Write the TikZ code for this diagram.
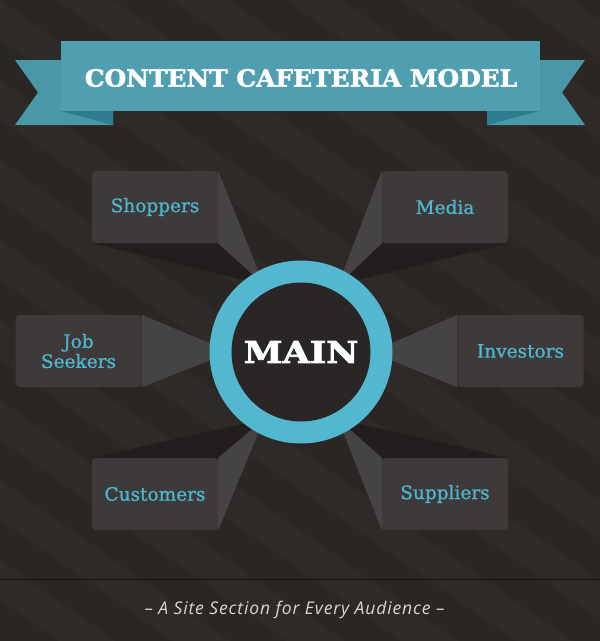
\documentclass[tikz,border=0pt]{standalone}
\usepackage{fontspec}
\newfontfamily\slabfont{DejaVu Serif}[FakeBold=0.9]
\newfontfamily\titlefont{DejaVu Serif Bold}[FakeStretch=1.05, FakeBold=2.2]
\newfontfamily\hubfont{DejaVu Serif Bold}[FakeStretch=1.17, FakeBold=2.6]
\newfontfamily\footfont{Open Sans}[LetterSpace=5]
\definecolor{bgc}{HTML}{2A2624}
\definecolor{stripec}{HTML}{2E2A28}
\definecolor{boxc}{HTML}{3D3A39}
\definecolor{lightface}{HTML}{464344}
\definecolor{darkface}{HTML}{221E1D}
\definecolor{ringc}{HTML}{53B8CF}
\definecolor{innerc}{HTML}{2A2625}
\definecolor{labelc}{HTML}{4FB6CD}
\definecolor{bannerc}{HTML}{509FB1}
\definecolor{tailc}{HTML}{4A97A8}
\definecolor{foldc}{HTML}{2E7C90}
\definecolor{footc}{HTML}{D9D5D1}
\definecolor{sepc}{HTML}{121010}
\pgfdeclarelayer{backlayer}
\pgfdeclarelayer{facelayer}
\pgfsetlayers{backlayer,facelayer,main}
\tikzset{
  boxst/.style={fill=boxc, rounded corners=4pt, minimum width=126pt, minimum height=72pt,
    inner sep=0pt, text=labelc, align=center, font=\slabfont\fontsize{18.5}{20}\selectfont},
  lightst/.style={fill=lightface},
  darkst/.style={fill=darkface},
}
\begin{document}
\begin{tikzpicture}[x=1pt,y=-1pt]
\useasboundingbox (0,0) rectangle (600,641);
% boxes
\node[boxst] (shop) at (155,207) {Shoppers};
\node[boxst] (media) at (445,207) {Media};
\node[boxst] (job) at (78.5,351) {Job\\Seekers};
\node[boxst] (inv) at (520.5,351) {Investors};
\node[boxst] (cust) at (155,494) {Customers};
\node[boxst] (supp) at (445,494) {Suppliers};
% vanishing points
\coordinate (Vs) at (264,285);
\coordinate (Vm) at (338,285);
\coordinate (Vj) at (231,352);
\coordinate (Vi) at (371,352);
\coordinate (Vc) at (264,419);
\coordinate (Vu) at (338,419);
% hub
\node[circle, fill=ringc, minimum size=183pt, inner sep=0pt] (ring) at (301,352) {};
\node[circle, fill=innerc, minimum size=139pt, inner sep=0pt, text=white,
  font=\hubfont\fontsize{30}{30}\selectfont] (hub) at (301,352) {MAIN};
% banner
\fill[tailc] (15,60) -- (113,60) -- (113,125) -- (15,125) -- (38,92.5) -- cycle;
\fill[foldc] (61,111) -- (113,111) -- (113,125) -- cycle;
\fill[tailc] (585,60) -- (487,60) -- (487,125) -- (585,125) -- (562,92.5) -- cycle;
\fill[foldc] (539,111) -- (487,111) -- (487,125) -- cycle;
\node[fill=bannerc, minimum width=479pt, minimum height=70pt, inner sep=0pt] (banner) at (300.5,76) {};
\node[text=white, font=\titlefont\fontsize{23.7}{24}\selectfont, inner sep=0pt] (title) at (301,78) {CONTENT CAFETERIA MODEL};
% footer
\coordinate (sepL) at (0,579.5);
\coordinate (sepR) at (600,579.5);
\draw[sepc, line width=1.5pt] (sepL) -- (sepR);
\node[text=footc, font=\footfont\itshape\fontsize{17.5}{17}\selectfont, inner sep=0pt] (foot) at (294.5,609.5) {– A Site Section for Every Audience –};
% faces
\begin{pgfonlayer}{facelayer}
\fill[darkst] (shop.south west) -- (shop.south east) -- (Vs) -- cycle;
\fill[lightst] (shop.north east) -- (shop.south east) -- (Vs) -- cycle;
\fill[darkst] (media.south west) -- (media.south east) -- (Vm) -- cycle;
\fill[lightst] (media.north west) -- (media.south west) -- (Vm) -- cycle;
\fill[lightst] (job.north east) -- (job.south east) -- (Vj) -- cycle;
\fill[lightst] (inv.north west) -- (inv.south west) -- (Vi) -- cycle;
\fill[darkst] (cust.north west) -- (cust.north east) -- (Vc) -- cycle;
\fill[lightst] (cust.north east) -- (cust.south east) -- (Vc) -- cycle;
\fill[darkst] (supp.north west) -- (supp.north east) -- (Vu) -- cycle;
\fill[lightst] (supp.north west) -- (supp.south west) -- (Vu) -- cycle;
\end{pgfonlayer}
% background
\begin{pgfonlayer}{backlayer}
\fill[bgc] (0,0) rectangle (600,641);
\begin{scope}
\clip (0,0) rectangle (600,641);
\foreach \c in {-480,-400,...,720} {
  \fill[stripec] (0,\c) -- (600,\c+420) -- (600,\c+460) -- (0,\c+40) -- cycle;
}
\end{scope}
\end{pgfonlayer}
\end{tikzpicture}
\end{document}
